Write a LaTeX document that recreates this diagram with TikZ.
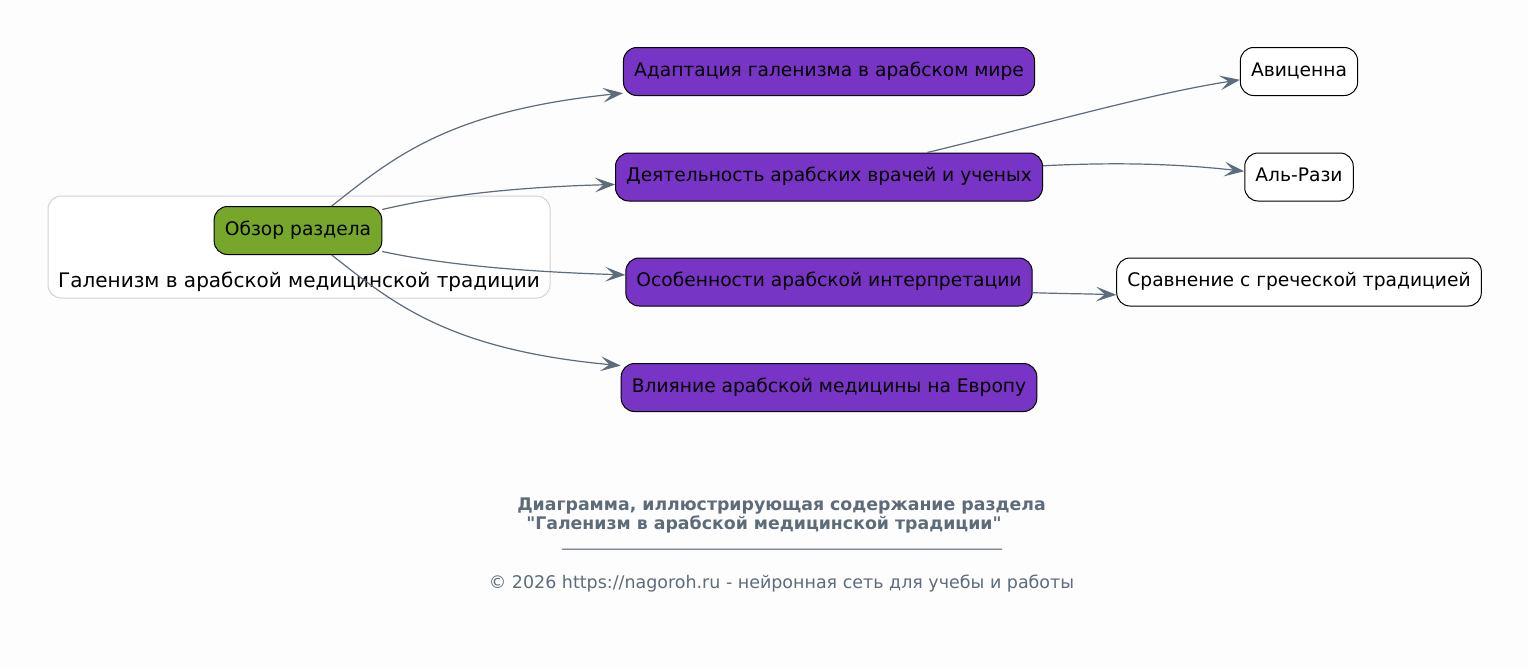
\documentclass[tikz,border=0pt]{standalone}
\usepackage{fontspec}
\setmainfont{DejaVu Sans}
\usetikzlibrary{arrows.meta}
\definecolor{pagebg}{HTML}{FDFDFD}
\definecolor{edgeslate}{HTML}{5E6B7A}
\definecolor{hubgreen}{HTML}{76A72A}
\definecolor{topicviolet}{HTML}{7834C4}
\definecolor{clusterline}{HTML}{D3D3D3}

\begin{document}
\begin{tikzpicture}[x=0.75pt, y=-0.75pt,
    >={Stealth[length=15pt, width=11pt, inset=6.5pt]}, line width=0.9pt,
    box/.style={draw=black, line width=0.75pt, rounded corners=10pt,
      minimum height=36pt, inner xsep=8pt, text height=10pt, text depth=3pt,
      font=\fontsize{14pt}{17pt}\selectfont},
    hub/.style={box, fill=hubgreen},
    topic/.style={box, fill=topicviolet},
    leaf/.style={box, fill=white},
    edge/.style={->, draw=edgeslate, line width=0.9pt},
    caption/.style={text=edgeslate, font=\bfseries\fontsize{13pt}{12.5pt}\selectfont},
    note/.style={text=edgeslate, font=\fontsize{13.1pt}{15pt}\selectfont}]
  % fondo
  \fill[pagebg] (0,0) rectangle (1528,668);
  \useasboundingbox (0,0) rectangle (1528,668);
  % grupo del apartado
  \draw[clusterline, fill=white, line width=0.75pt, rounded corners=10pt] (48,196) rectangle (550,298);
  \node[font=\fontsize{15pt}{18pt}\selectfont, anchor=base] (grouplabel) at (299,287) {Галенизм в арабской медицинской традиции};
  % nodos
  \node[hub] (overview) at (298,230.5) {Обзор раздела};
  \node[topic] (adapt) at (829,71.5) {Адаптация галенизма в арабском мире};
  \node[topic] (work) at (829,177) {Деятельность арабских врачей и ученых};
  \node[topic] (features) at (829,282) {Особенности арабской интерпретации};
  \node[topic] (impact) at (829,387.5) {Влияние арабской медицины на Европу};
  \node[leaf] (avicenna) at (1299,71.5) {Авиценна};
  \node[leaf] (razi) at (1299,177) {Аль-Рази};
  \node[leaf] (compare) at (1299,282) {Сравнение с греческой традицией};
  % aristas
  \draw[edge] (overview.36) .. controls +(60,-47) and +(-177,18) .. (adapt.186);
  \draw[edge] (overview.14) .. controls +(47,-11) and +(-117,3) .. (work.182);
  \draw[edge] (overview.-14) .. controls +(47,10) and +(-128,-4) .. (features.178);
  \draw[edge] (overview.-36) .. controls +(60,47) and +(-174,-16) .. (impact.174);
  \draw[edge] (work.14.5) .. controls +(108,-26) and +(-91,14) .. (avicenna.188);
  \draw[edge] (work.3) .. controls +(79,-4) and +(-64,-7) .. (razi.174);
  \draw[edge] (features.-3) .. controls +(30,1) and +(-30,-1) .. (compare.184);
  % pie
  \node[caption, align=left] (caption) at (781.5,515.5) {Диаграмма, иллюстрирующая содержание раздела\\\hspace*{6.75pt}\textquotedbl Галенизм в арабской медицинской традиции\textquotedbl};
  \node[text=edgeslate, font=\fontsize{12pt}{14pt}\selectfont, anchor=base] (divider) at (782,546) {\_\_\_\_\_\_\_\_\_\_\_\_\_\_\_\_\_\_\_\_\_\_\_\_\_\_\_\_\_\_\_\_\_\_\_\_\_\_\_\_\_\_\_\_\_\_\_\_\_\_\_\_\_\_\_};
  \node[note, anchor=base] (credit) at (781.5,588) {© 2026 https://nagoroh.ru - нейронная сеть для учебы и работы};
\end{tikzpicture}
\end{document}
